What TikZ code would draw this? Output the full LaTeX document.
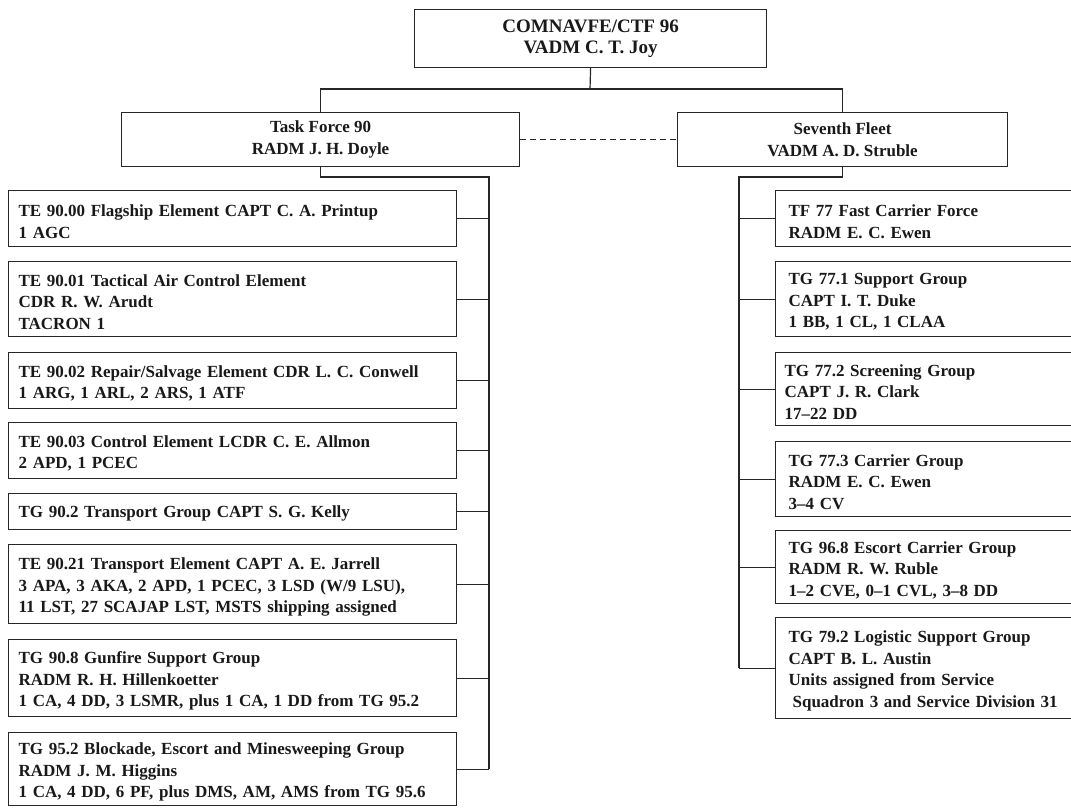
\documentclass[tikz,border=0pt]{standalone}
\usepackage{fontspec}
\setmainfont{Liberation Serif}
\newcommand\mytailA{\endgraf\vspace*{-6pt}}
\newcommand\mytailB{\endgraf\vspace*{-4pt}}
\begin{document}
\begin{tikzpicture}[x=1pt,y=-1pt,
  line/.style={draw=black!85, line width=1.2pt},
  box/.style={line, fill=white, anchor=north west, inner ysep=0pt, align=left,
    font=\bfseries\fontsize{17}{21.5}\selectfont, text=black!90,
    execute at end node=\mytailA},
  cbox/.style={line, fill=white, anchor=north west, inner sep=0pt, align=center,
    font=\bfseries\fontsize{17}{22}\selectfont, text=black!90,
    execute at end node=\mytailB},
  lbox/.style={box, minimum width=448pt, text width=428pt, inner xsep=10pt},
  rbox/.style={box, minimum width=330pt, text width=304pt, inner xsep=13pt},
  conn/.style={line},
  dashconn/.style={line, dash pattern=on 6pt off 4pt}]
\clip (0,0) rectangle (1071,809);
\fill[white] (0,0) rectangle (1071,809);

% top
\node[cbox, minimum width=352pt, minimum height=58pt, font=\bfseries\fontsize{19}{21}\selectfont] (top) at (414,9) {COMNAVFE/CTF 96\\VADM C. T. Joy};
\node[cbox, minimum width=398pt, minimum height=54pt] (tf) at (121,112) {Task Force 90\\RADM J. H. Doyle};
\node[cbox, minimum width=330pt, minimum height=54pt] (sf) at (677,112) {Seventh Fleet\\VADM A. D. Struble};

\coordinate (tj) at (590,89);
\draw[conn] (top.south) -- (tj);
\draw[conn] (tf.north) -- (tf.north |- tj) -- (sf.north |- tj) -- (sf.north);
\draw[dashconn] (tf.east) -- (sf.west);

% left column
\node[lbox, minimum height=56pt] (l1) at (8,190) {TE 90.00 Flagship Element CAPT C. A. Printup\\1 AGC};
\node[lbox, minimum height=75pt] (l2) at (8,261) {TE 90.01 Tactical Air Control Element\\CDR R. W. Arudt\\TACRON 1};
\node[lbox, minimum height=56pt] (l3) at (8,352) {TE 90.02 Repair/Salvage Element CDR L. C. Conwell\\1 ARG, 1 ARL, 2 ARS, 1 ATF};
\node[lbox, minimum height=56pt] (l4) at (8,422) {TE 90.03 Control Element LCDR C. E. Allmon\\2 APD, 1 PCEC};
\node[lbox, minimum height=36pt] (l5) at (8,493) {TG 90.2 Transport Group CAPT S. G. Kelly};
\node[lbox, minimum height=79pt] (l6) at (8,544) {TE 90.21 Transport Element CAPT A. E. Jarrell\\3 APA, 3 AKA, 2 APD, 1 PCEC, 3 LSD (W/9 LSU),\\11 LST, 27 SCAJAP LST, MSTS shipping assigned};
\node[lbox, minimum height=77pt] (l7) at (8,639) {TG 90.8 Gunfire Support Group\\RADM R. H. Hillenkoetter\\1 CA, 4 DD, 3 LSMR, plus 1 CA, 1 DD from TG 95.2};
\node[lbox, minimum height=73pt] (l8) at (8,732) {TG 95.2 Blockade, Escort and Minesweeping Group\\RADM J. M. Higgins\\1 CA, 4 DD, 6 PF, plus DMS, AM, AMS from TG 95.6};

\coordinate (lj) at (489,177);
\draw[conn] (tf.south) |- (lj) -- (lj |- l8.east);
\foreach \b in {l1,l2,l3,l4,l5,l6,l7,l8}
  \draw[conn] (\b.east) -- (\b.east -| lj);

% right column
\node[rbox, minimum height=56pt] (r1) at (775,190) {TF 77 Fast Carrier Force\\RADM E. C. Ewen};
\node[rbox, minimum height=75pt] (r2) at (775,261) {TG 77.1 Support Group\\CAPT I. T. Duke\\1 BB, 1 CL, 1 CLAA};
\node[rbox, minimum height=73pt, inner xsep=9pt, text width=312pt] (r3) at (775,352) {TG 77.2 Screening Group\\CAPT J. R. Clark\\17--22 DD};
\node[rbox, minimum height=75pt] (r4) at (775,441) {TG 77.3 Carrier Group\\RADM E. C. Ewen\\3--4 CV};
\node[rbox, minimum height=73pt] (r5) at (775,530) {TG 96.8 Escort Carrier Group\\RADM R. W. Ruble\\1--2 CVE, 0--1 CVL, 3--8 DD};
\node[rbox, minimum height=101pt] (r6) at (775,617) {TG 79.2 Logistic Support Group\\CAPT B. L. Austin\\Units assigned from Service\\\hspace*{4pt}Squadron 3 and Service Division 31};

\coordinate (rj) at (739,177);
\draw[conn] (sf.south) |- (rj) -- (rj |- r6.west);
\foreach \b in {r1,r2,r3,r4,r5,r6}
  \draw[conn] (\b.west) -- (\b.west -| rj);
\end{tikzpicture}
\end{document}
